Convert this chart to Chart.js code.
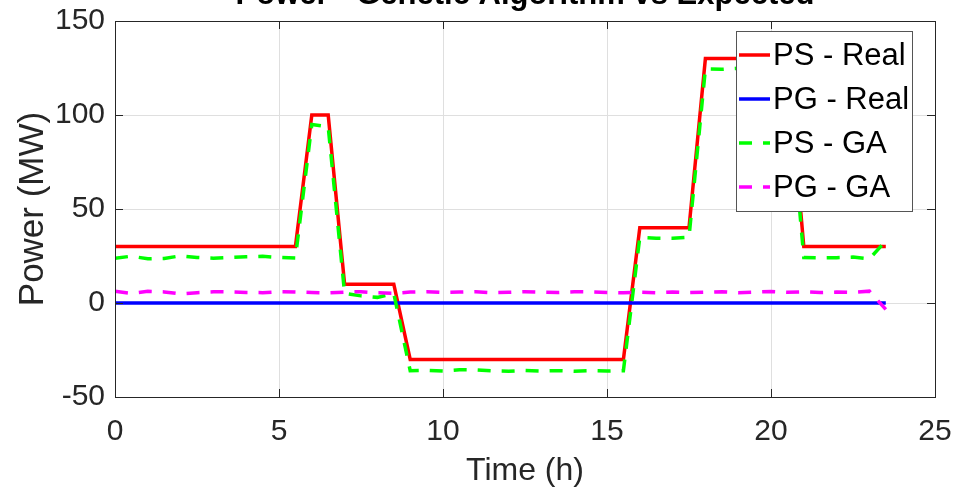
<!DOCTYPE html>
<html>
<head>
<meta charset="utf-8">
<script src="https://cdn.jsdelivr.net/npm/chart.js@4/dist/chart.umd.min.js"></script>
<style>
  html, body { margin: 0; padding: 0; background: #fff; }
  #frame { position: relative; width: 955px; height: 494px; overflow: hidden; }
  #holder { position: absolute; left: 0; top: -30px; width: 955px; height: 524px; }
</style>
</head>
<body>
<div id="frame"><div id="holder"><canvas id="c"></canvas></div></div>
<script>
const titleText = 'Power - Genetic Algorithm vs Expected';
const xTitle = 'Time (h)';
const yTitle = 'Power (MW)';
const seriesNames = ['PS - Real', 'PG - Real', 'PS - GA', 'PG - GA'];
const xTicks = [0, 5, 10, 15, 20, 25];
const yTicks = [-50, 0, 50, 100, 150];

const times = [0, 0.5, 1, 1.5, 2, 2.5, 3, 3.5, 4, 4.5, 5, 5.5,
  6, 6.5, 7, 7.5, 8, 8.5, 9, 9.5, 10, 10.5, 11, 11.5,
  12, 12.5, 13, 13.5, 14, 14.5, 15, 15.5, 16, 16.5, 17, 17.5,
  18, 18.5, 19, 19.5, 20, 20.5, 21, 21.5, 22, 22.5, 23, 23.5];

const psReal = [30, 30, 30, 30, 30, 30, 30, 30, 30, 30, 30, 30,
  100, 100, 10, 10, 10, 10, -30, -30, -30, -30, -30, -30,
  -30, -30, -30, -30, -30, -30, -30, -30, 40, 40, 40, 40,
  130, 130, 130, 130, 130, 130, 30, 30, 30, 30, 30, 30];

const pgReal = [0, 0, 0, 0, 0, 0, 0, 0, 0, 0, 0, 0,
  0, 0, 0, 0, 0, 0, 0, 0, 0, 0, 0, 0,
  0, 0, 0, 0, 0, 0, 0, 0, 0, 0, 0, 0,
  0, 0, 0, 0, 0, 0, 0, 0, 0, 0, 0, 0];

const psGA = [23.8, 24.9, 23.5, 23.7, 25.1, 24.2, 23.8, 24.2, 24.6, 24.8, 24.2, 23.9,
  95.0, 93.8, 5.2, 3.8, 3.0, 5.0, -36.0, -35.8, -36.2, -35.5, -35.6, -36.1,
  -36.3, -35.9, -36.2, -36.0, -36.3, -36.0, -36.2, -36.0, 35.0, 34.5, 34.4, 35.0,
  124.5, 124.3, 124.8, 124.2, 124.6, 124.0, 24.2, 24.0, 24.1, 24.4, 23.5, 33.0];

const pgGA = [6.2, 5.1, 6.2, 5.9, 4.8, 5.5, 6.0, 5.9, 5.6, 5.5, 6.0, 5.9,
  5.6, 5.4, 5.8, 6.0, 5.4, 5.2, 5.8, 6.0, 5.6, 5.8, 6.0, 5.5,
  5.7, 6.0, 5.8, 5.6, 6.0, 5.9, 5.6, 5.4, 5.8, 5.5, 5.9, 5.6,
  5.8, 6.0, 5.5, 5.8, 6.1, 5.7, 6.0, 5.6, 5.8, 5.6, 6.3, -3.4];

const FONT = '"Liberation Sans", Arial, Helvetica, sans-serif';
const AXIS_COLOR = '#262626';

function pts(vals) { return times.map((t, i) => ({ x: t, y: vals[i] })); }

// inward ticks + full box
const boxPlugin = {
  id: 'boxTicks',
  afterDatasetsDraw(chart) {
    const { ctx, chartArea: a, scales } = chart;
    const L = 8;
    ctx.save();
    ctx.strokeStyle = AXIS_COLOR;
    ctx.lineWidth = 1;
    ctx.beginPath();
    xTicks.forEach(v => {
      const x = Math.round(scales.x.getPixelForValue(v)) + 0.5;
      ctx.moveTo(x, a.bottom); ctx.lineTo(x, a.bottom - L);
      ctx.moveTo(x, a.top); ctx.lineTo(x, a.top + L);
    });
    yTicks.forEach(v => {
      const y = Math.round(scales.y.getPixelForValue(v)) + 0.5;
      ctx.moveTo(a.left, y); ctx.lineTo(a.left + L, y);
      ctx.moveTo(a.right, y); ctx.lineTo(a.right - L, y);
    });
    ctx.stroke();
    ctx.strokeRect(Math.round(a.left) + 0.5, Math.round(a.top) + 0.5,
      Math.round(a.right - a.left), Math.round(a.bottom - a.top));
    ctx.restore();
  }
};

// MATLAB-style legend box inside the axes
const legendPlugin = {
  id: 'boxLegend',
  afterDraw(chart) {
    const { ctx, chartArea: a } = chart;
    const right = a.right - 23, top = a.top + 10;
    const w = 176, h = 180;
    const left = right - w;
    ctx.save();
    ctx.fillStyle = '#fff';
    ctx.fillRect(left, top, w, h);
    ctx.strokeStyle = '#555';
    ctx.lineWidth = 1;
    ctx.strokeRect(Math.round(left) + 0.5, Math.round(top) + 0.5, w, h);
    ctx.font = '31px ' + FONT;
    ctx.textBaseline = 'middle';
    ctx.textAlign = 'left';
    chart.data.datasets.forEach((ds, i) => {
      const y = top + 24 + i * 44;
      ctx.beginPath();
      ctx.strokeStyle = ds.borderColor;
      ctx.lineWidth = ds.borderWidth;
      ctx.setLineDash(ds.borderDash || []);
      ctx.moveTo(left + 3, y);
      ctx.lineTo(left + 34, y);
      ctx.stroke();
      ctx.setLineDash([]);
      ctx.fillStyle = '#000';
      ctx.fillText(ds.label, left + 37, y + 1);
    });
    ctx.restore();
  }
};

new Chart(document.getElementById('c'), {
  type: 'line',
  data: {
    datasets: [
      { label: seriesNames[0], data: pts(psReal), borderColor: '#ff0000', borderWidth: 3.5, pointRadius: 0, order: 4 },
      { label: seriesNames[1], data: pts(pgReal), borderColor: '#0000ff', borderWidth: 3.5, pointRadius: 0, order: 3 },
      { label: seriesNames[2], data: pts(psGA), borderColor: '#00ff00', borderWidth: 3.5, borderDash: [13, 11], pointRadius: 0, order: 2 },
      { label: seriesNames[3], data: pts(pgGA), borderColor: '#ff00ff', borderWidth: 3.5, borderDash: [13, 11], pointRadius: 0, order: 1 }
    ]
  },
  options: {
    responsive: true,
    maintainAspectRatio: false,
    animation: false,
    devicePixelRatio: 1,
    layout: { padding: { left: 0, right: 20, top: 0, bottom: 0 } },
    elements: { line: { tension: 0, borderCapStyle: 'butt', borderJoinStyle: 'miter' } },
    plugins: {
      legend: { display: false },
      tooltip: { enabled: false },
      title: {
        display: true,
        text: titleText,
        fullSize: false,
        color: '#000',
        font: { family: FONT, size: 31, weight: 'bold', lineHeight: 1.2 },
        padding: { top: 6.7, bottom: 7.1 }
      }
    },
    scales: {
      x: {
        type: 'linear',
        min: 0, max: 25,
        afterBuildTicks: (s) => { s.ticks = xTicks.map(v => ({ value: v })); },
        afterFit: (s) => { s.height = 97; s.paddingLeft = 0; s.paddingRight = 0; },
        grid: { color: '#dfdfdf', lineWidth: 1, drawTicks: false },
        border: { display: false },
        ticks: { color: AXIS_COLOR, padding: 17, maxRotation: 0, font: { family: FONT, size: 30 } },
        title: { display: true, text: xTitle, color: AXIS_COLOR, padding: { top: 0, bottom: 4 }, font: { family: FONT, size: 32 } }
      },
      y: {
        type: 'linear',
        min: -50, max: 150,
        afterBuildTicks: (s) => { s.ticks = yTicks.map(v => ({ value: v })); },
        afterFit: (s) => { s.width = 115; },
        grid: { color: '#dfdfdf', lineWidth: 1, drawTicks: false },
        border: { display: false },
        ticks: { color: AXIS_COLOR, padding: 10, font: { family: FONT, size: 30 } },
        title: { display: true, text: yTitle, color: AXIS_COLOR, padding: { top: 12, bottom: 0 }, font: { family: FONT, size: 35 } }
      }
    }
  },
  plugins: [boxPlugin, legendPlugin]
});
</script>
</body>
</html>
